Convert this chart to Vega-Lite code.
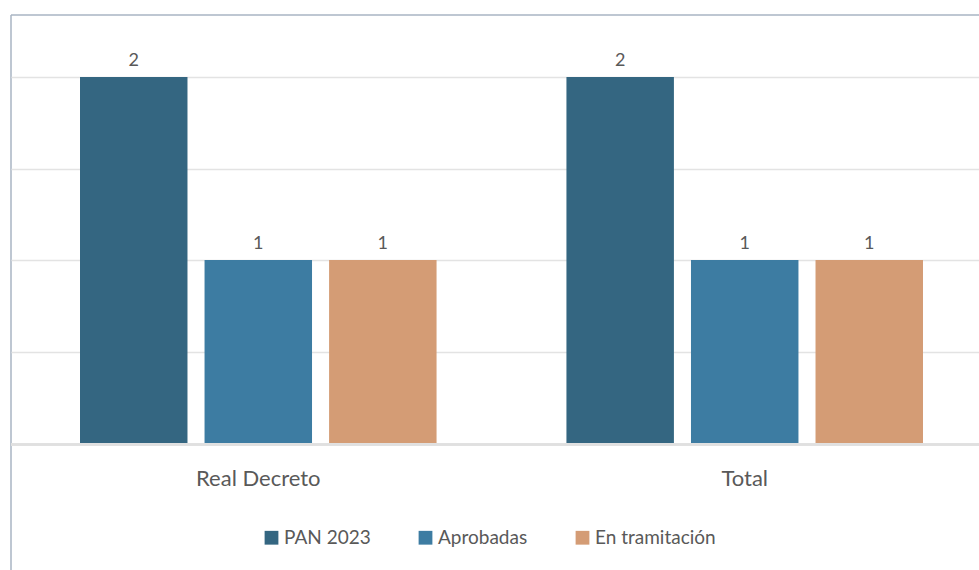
{
  "$schema": "https://vega.github.io/schema/vega-lite/v6.json",
  "width": 968,
  "height": 555,
  "autosize": {"type": "none"},
  "padding": {"left": 11, "top": 15, "right": 0, "bottom": 0},
  "background": "white",
  "config": {
    "font": "Lato",
    "view": {"stroke": "#a9b5c4", "strokeWidth": 1.5, "strokeDash": [968, 1523, 555, 0]}
  },
  "data": {
    "values": [
      {"category": "Real Decreto", "series": "PAN 2023", "value": 2},
      {"category": "Real Decreto", "series": "Aprobadas", "value": 1},
      {"category": "Real Decreto", "series": "En tramitación", "value": 1},
      {"category": "Total", "series": "PAN 2023", "value": 2},
      {"category": "Total", "series": "Aprobadas", "value": 1},
      {"category": "Total", "series": "En tramitación", "value": 1}
    ]
  },
  "encoding": {
    "x": {
      "field": "category",
      "type": "nominal",
      "sort": ["Real Decreto", "Total"],
      "scale": {"paddingInner": 0.267, "paddingOuter": 0.1285, "align": 0.552},
      "axis": {
        "title": null,
        "orient": "bottom",
        "offset": -127,
        "domain": false,
        "ticks": false,
        "labelAngle": 0,
        "labelFontSize": 22,
        "labelColor": "#595959",
        "labelPadding": 25
      }
    },
    "xOffset": {
      "field": "series",
      "type": "nominal",
      "sort": ["PAN 2023", "Aprobadas", "En tramitación"],
      "scale": {"paddingInner": 0.137, "paddingOuter": 0}
    },
    "y": {
      "field": "value",
      "type": "quantitative",
      "scale": {"domain": [-0.694, 2.339], "nice": false, "zero": false},
      "axis": {
        "title": null,
        "values": [0.5, 1, 1.5, 2],
        "labels": false,
        "ticks": false,
        "domain": false,
        "grid": true,
        "gridColor": "#e3e3e3",
        "gridWidth": 1.5
      }
    }
  },
  "layer": [
    {
      "mark": {"type": "bar"},
      "encoding": {
        "color": {
          "field": "series",
          "type": "nominal",
          "sort": ["PAN 2023", "Aprobadas", "En tramitación"],
          "scale": {
            "domain": ["PAN 2023", "Aprobadas", "En tramitación"],
            "range": ["#346681", "#3d7ca2", "#d49c75"]
          },
          "legend": {
            "orient": "none",
            "legendX": 251,
            "legendY": 513,
            "direction": "horizontal",
            "title": null,
            "symbolType": "square",
            "symbolSize": 190,
            "symbolStrokeWidth": 0,
            "labelFontSize": 19,
            "labelColor": "#595959",
            "columnPadding": 45,
            "labelOffset": 3
          }
        }
      }
    },
    {
      "mark": {"type": "text", "baseline": "alphabetic", "dy": -11, "fontSize": 18, "color": "#595959"},
      "encoding": {"text": {"field": "value", "type": "quantitative"}}
    },
    {
      "mark": {"type": "rule", "color": "#e0e0e0", "strokeWidth": 2.5},
      "encoding": {"y": {"datum": -0.008}, "x": null, "xOffset": null}
    }
  ]
}
